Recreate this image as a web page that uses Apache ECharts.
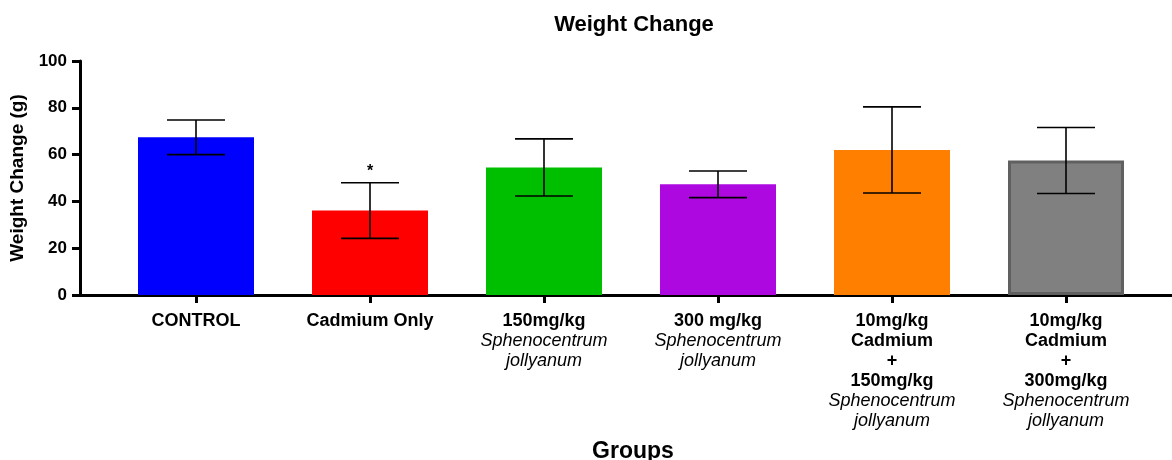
<!DOCTYPE html>
<html>
<head>
<meta charset="utf-8">
<script src="https://cdn.jsdelivr.net/npm/echarts@6/dist/echarts.min.js"></script>
<style>
html,body{margin:0;padding:0;background:#fff;}
#chart{width:1172px;height:460px;}
</style>
</head>
<body>
<div id="chart"></div>
<script>
// ---- data ----
const categories = [
  'CONTROL',
  'Cadmium Only',
  '150mg/kg\nSphenocentrum\njollyanum',
  '300 mg/kg\nSphenocentrum\njollyanum',
  '10mg/kg\nCadmium\n+\n150mg/kg\nSphenocentrum\njollyanum',
  '10mg/kg\nCadmium\n+\n300mg/kg\nSphenocentrum\njollyanum'
];
const means = [67.4, 36.1, 54.5, 47.3, 62.0, 57.5];
const sds = [7.4, 11.9, 12.2, 5.7, 18.4, 14.1];
const significance = ['', '*', '', '', '', ''];
const yTicks = [0, 20, 40, 60, 80, 100];
const italicWords = ['Sphenocentrum', 'jollyanum'];

// ---- styles ----
const FONT = '"Liberation Sans", Arial, Helvetica, sans-serif';
const barColors = ['#0000FF', '#FF0000', '#00BF00', '#AE08E0', '#FF8000', '#808080'];
const barBorders = [null, null, null, null, null, '#606060'];

const chart = echarts.init(document.getElementById('chart'));

const barData = means.map((v, i) => ({
  value: v,
  itemStyle: barBorders[i]
    ? { color: barColors[i], borderColor: barBorders[i], borderWidth: 3 }
    : { color: barColors[i] }
}));
const errData = means.map((v, i) => [i, v - sds[i], v + sds[i], significance[i]]);

const option = {
  backgroundColor: '#ffffff',
  animation: false,
  title: [
    { text: 'Weight Change', left: 629, top: 9, textAlign: 'center',
      textStyle: { fontFamily: FONT, fontWeight: 'bold', fontSize: 22, color: '#000' } },
    { text: 'Groups', left: 628, top: 435, textAlign: 'center',
      textStyle: { fontFamily: FONT, fontWeight: 'bold', fontSize: 23, color: '#000' } }
  ],
  grid: [
    { left: 109, right: 19, top: 61, bottom: 165 },
    { left: 80, right: 0, top: 61, bottom: 165 }
  ],
  xAxis: [
    {
      type: 'category', gridIndex: 0, data: categories,
      axisLine: { show: false },
      axisTick: { show: true, alignWithLabel: true, length: 8, lineStyle: { color: '#000', width: 3 } },
      axisLabel: {
        interval: 0, margin: 16, color: '#000',
        formatter: function (val) {
          return val.split('\n').map(l => italicWords.indexOf(l) >= 0 ? '{i|' + l + '}' : '{b|' + l + '}').join('\n');
        },
        rich: {
          b: { fontFamily: FONT, fontWeight: 'bold', fontSize: 18, lineHeight: 20, color: '#000' },
          i: { fontFamily: FONT, fontStyle: 'italic', fontWeight: 'normal', fontSize: 18, lineHeight: 20, color: '#000' }
        }
      }
    },
    {
      type: 'value', gridIndex: 1, min: 0, max: 1,
      axisLine: { show: true, onZero: false, lineStyle: { color: '#000', width: 3 } },
      axisTick: { show: false }, axisLabel: { show: false }, splitLine: { show: false }
    }
  ],
  yAxis: [
    {
      type: 'value', gridIndex: 0, min: yTicks[0], max: yTicks[yTicks.length - 1], interval: 20,
      offset: 29,
      name: 'Weight Change (g)', nameLocation: 'middle', nameGap: 45, nameRotate: 90,
      nameTextStyle: { fontFamily: FONT, fontWeight: 'bold', fontSize: 19, color: '#000' },
      axisLine: { show: true, lineStyle: { color: '#000', width: 3 } },
      axisTick: { show: true, length: 8, lineStyle: { color: '#000', width: 3 } },
      axisLabel: { margin: 13, fontFamily: FONT, fontWeight: 'bold', fontSize: 17, color: '#000' },
      splitLine: { show: false }
    },
    {
      type: 'value', gridIndex: 1, min: 0, max: 1, show: false
    }
  ],
  series: [
    {
      type: 'bar', xAxisIndex: 0, yAxisIndex: 0, data: barData, barWidth: 116, z: 2
    },
    {
      type: 'custom', xAxisIndex: 0, yAxisIndex: 0, data: errData, z: 5,
      renderItem: function (params, api) {
        const x = api.value(0);
        const lo = api.coord([x, api.value(1)]);
        const hi = api.coord([x, api.value(2)]);
        const hw = 29;
        const style = { stroke: '#000', lineWidth: 1.6 };
        const children = [
          { type: 'line', shape: { x1: hi[0], y1: hi[1], x2: lo[0], y2: lo[1] }, style: style },
          { type: 'line', shape: { x1: hi[0] - hw, y1: hi[1], x2: hi[0] + hw, y2: hi[1] }, style: style },
          { type: 'line', shape: { x1: lo[0] - hw, y1: lo[1], x2: lo[0] + hw, y2: lo[1] }, style: style }
        ];
        const sig = api.value(3);
        if (sig) {
          children.push({ type: 'text', style: {
            text: sig, x: hi[0], y: hi[1] - 3, align: 'center', verticalAlign: 'bottom',
            fontFamily: FONT, fontSize: 16, fontWeight: 'bold', fill: '#000' } });
        }
        return { type: 'group', children: children };
      }
    }
  ]
};
chart.setOption(option);
</script>
</body>
</html>
